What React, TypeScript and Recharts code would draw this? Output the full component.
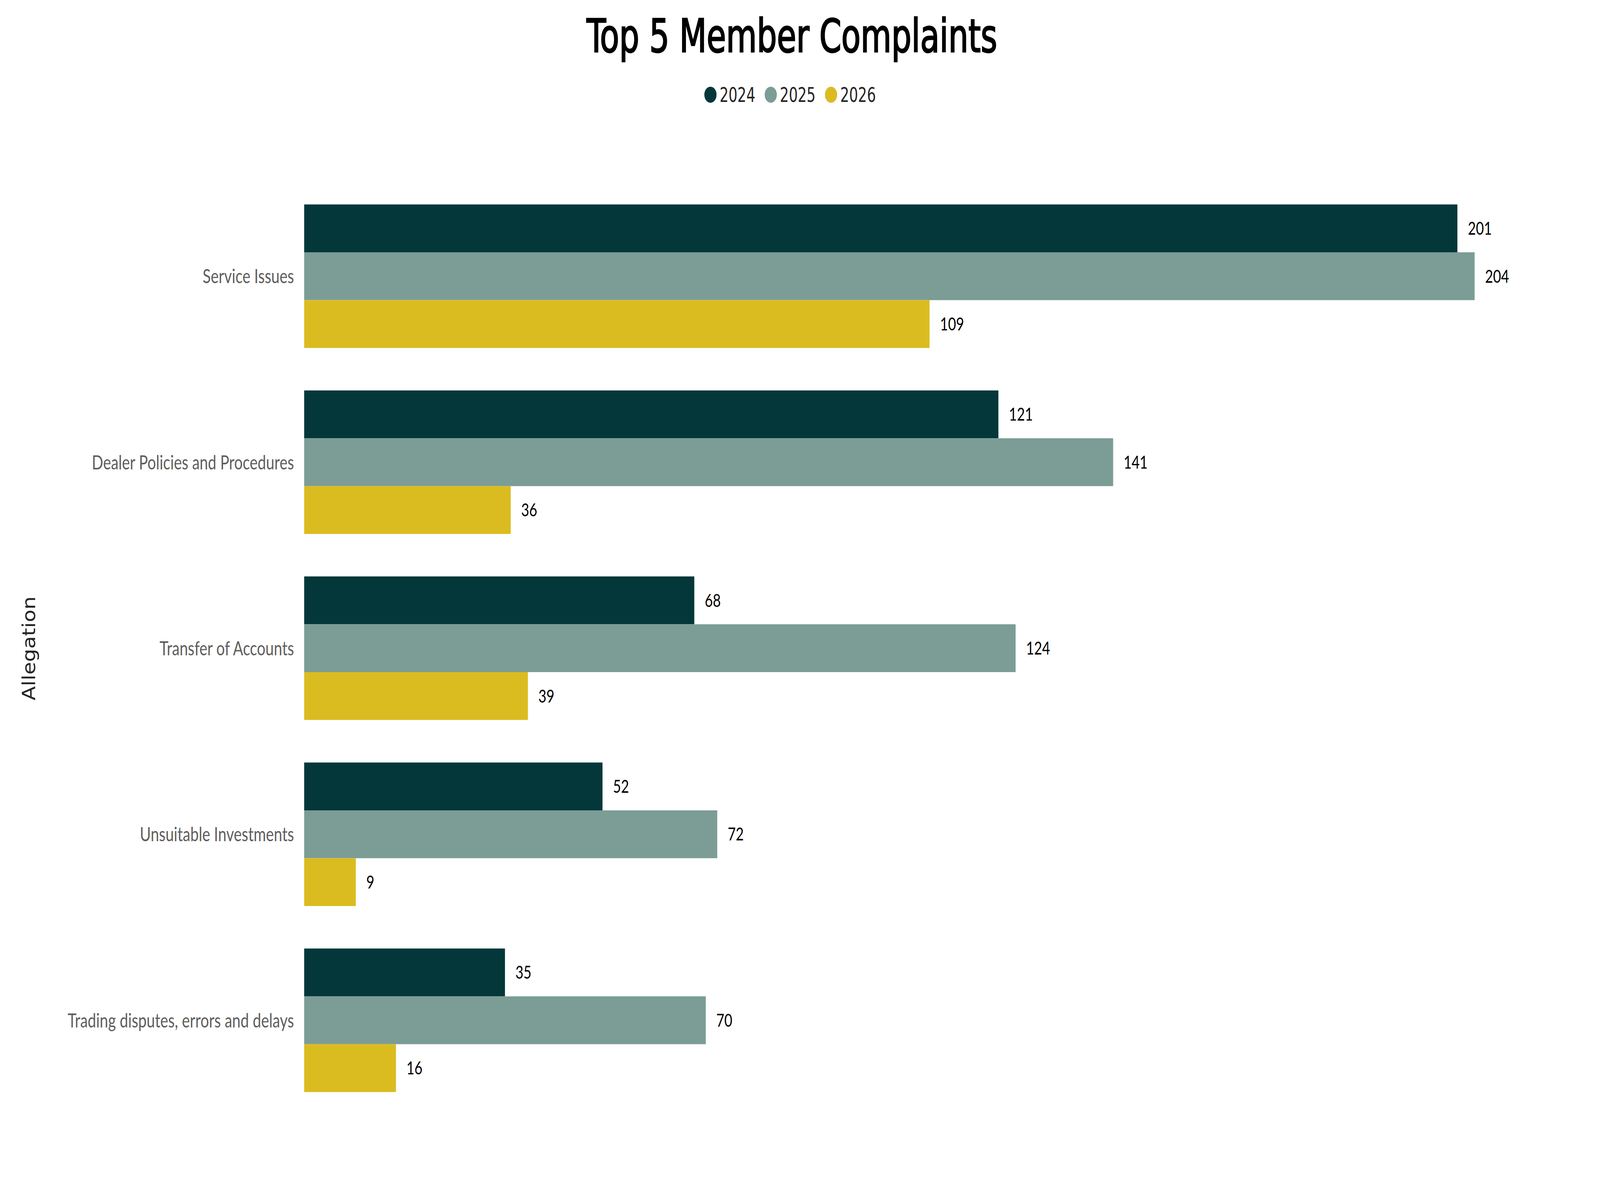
import React from "react"
import { BarChart, Bar, XAxis, YAxis, Legend, LabelList } from "recharts"

const categories = [
  "Service Issues",
  "Dealer Policies and Procedures",
  "Transfer of Accounts",
  "Unsuitable Investments",
  "Trading disputes, errors and delays",
]
const complaints2024 = [201, 121, 68, 52, 35]
const complaints2025 = [204, 141, 124, 72, 70]
const complaints2026 = [109, 36, 39, 9, 16]

const seriesNames = ["2024", "2025", "2026"]
const COLORS = ["#03373A", "#7B9D96", "#DBBC20"]

const data = categories.map((name, i) => ({
  name,
  y2024: complaints2024[i],
  y2025: complaints2025[i],
  y2026: complaints2026[i],
}))

const DIN = "'DejaVu Sans Condensed', 'DejaVu Sans', sans-serif"
const SEGOE = "Lato, 'Open Sans', sans-serif"

// design size of the reference; the page itself is narrower, so squeeze it horizontally
const W = 5334
const H = 3042

function renderLegend(props: any) {
  const { payload } = props
  return (
    <div style={{ display: "flex", justifyContent: "center", alignItems: "center", height: 60, gap: 31 }}>
      {(payload || []).map((entry: any) => (
        <div key={entry.value} style={{ display: "flex", alignItems: "center", gap: 10 }}>
          <svg width={41} height={41} style={{ display: "block" }}>
            <circle cx={20.5} cy={20.5} r={20.5} fill={entry.color} />
          </svg>
          <span style={{ fontFamily: DIN, fontSize: 52, lineHeight: "60px", color: "#252423" }}>{entry.value}</span>
        </div>
      ))}
    </div>
  )
}

function renderAxisTitle(props: any) {
  const vb = props.viewBox || {}
  const x = (vb.x || 0) + 117
  const y = (vb.y || 0) + (vb.height || 0) / 2
  return (
    <text
      x={x}
      y={y}
      transform={`rotate(-90 ${x} ${y})`}
      textAnchor="middle"
      fontFamily={DIN}
      fontSize={59}
      fill="#252423"
    >
      Allegation
    </text>
  )
}

export default function App() {
  const keys = ["y2024", "y2025", "y2026"]
  const pageWidth = typeof window !== "undefined" ? window.innerWidth : W
  const sx = Math.min(1, pageWidth / W)
  return (
    <div
      style={{
        position: "absolute",
        left: 0,
        top: 0,
        width: W,
        height: H,
        background: "#fff",
        transform: `scaleX(${sx})`,
        transformOrigin: "0 0",
        overflow: "hidden",
      }}
    >
      <svg width={W} height={300} style={{ position: "absolute", left: 0, top: 0 }}>
        <text
          x={2640}
          y={133}
          textAnchor="middle"
          fontFamily={DIN}
          fontSize={117}
          fill="#000"
          stroke="#000"
          strokeWidth={3}
        >
          Top 5 Member Complaints
        </text>
      </svg>
      <BarChart
        width={W}
        height={H}
        data={data}
        layout="vertical"
        margin={{ top: 469.5, right: 112, bottom: 191, left: 0 }}
        barSize={122.5}
        barGap={0}
        style={{ position: "absolute", left: 0, top: 0 }}
      >
        <XAxis type="number" hide domain={[0, 220]} />
        <YAxis
          type="category"
          dataKey="name"
          width={1014}
          tickLine={false}
          axisLine={false}
          tickSize={0}
          tickMargin={34}
          tick={{ fill: "#605E5C", fontSize: 50, fontFamily: SEGOE }}
          label={renderAxisTitle}
        />
        <Legend
          verticalAlign="middle"
          align="center"
          layout="horizontal"
          content={renderLegend}
          wrapperStyle={{ top: 212.5, left: 0, width: 5268, height: 60 }}
        />
        {keys.map((k, i) => (
          <Bar key={k} dataKey={k} name={seriesNames[i]} fill={COLORS[i]} isAnimationActive={false}>
            <LabelList
              dataKey={k}
              position="right"
              offset={35}
              fill="#000"
              fontSize={46}
              fontFamily={SEGOE}
            />
          </Bar>
        ))}
      </BarChart>
    </div>
  )
}
